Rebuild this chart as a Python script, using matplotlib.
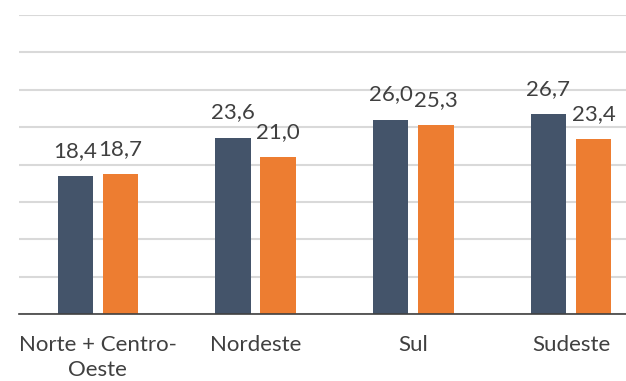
import matplotlib
matplotlib.use('Agg')
import matplotlib.pyplot as plt
import numpy as np

## Data
categories = ['Norte + Centro-\nOeste', 'Nordeste', 'Sul', 'Sudeste']
serie_a = [18.4, 23.6, 26.0, 26.7]
serie_b = [18.7, 21.0, 25.3, 23.4]

cor_a = '#44546A'
cor_b = '#ED7D31'
cor_texto = '#404040'

plt.rcParams['font.family'] = ['Lato', 'DejaVu Sans']

fig = plt.figure(figsize=(6.26, 3.81), dpi=100)
ax = fig.add_axes([19 / 626, 1 - 314 / 381, 1 - 19 / 626, (314 - 15) / 381])

x = np.arange(len(categories))
w = 0.225
off = 0.143
bars_a = ax.bar(x - off, serie_a, w, color=cor_a, zorder=3)
bars_b = ax.bar(x + off, serie_b, w, color=cor_b, zorder=3)

### Data labels, comma as decimal separator
for bars, vals in ((bars_a, serie_a), (bars_b, serie_b)):
    for b, v in zip(bars, vals):
        ax.annotate(f'{v:.1f}'.replace('.', ','),
                    (b.get_x() + b.get_width() / 2, v),
                    xytext=(0, 11), textcoords='offset points',
                    ha='center', va='bottom', fontsize=16, color=cor_texto)

ax.set_ylim(0, 40)
ax.set_yticks(np.arange(0, 41, 5))
ax.set_xlim(-0.5, -0.5 + (626 - 19) / 157.7)
ax.set_xticks(x)
ax.set_xticklabels(categories, fontsize=16, color=cor_texto, linespacing=1.3)
ax.tick_params(axis='x', length=0, pad=15)
ax.tick_params(axis='y', length=0, labelleft=False)
ax.grid(axis='y', color='#d9d9d9', lw=1.5, zorder=0)
for s in ('top', 'right', 'left'):
    ax.spines[s].set_visible(False)
ax.spines['bottom'].set_color('#404040')
ax.spines['bottom'].set_linewidth(1.2)
ax.spines['bottom'].set_zorder(4)

plt.savefig('out.png', dpi=100)
